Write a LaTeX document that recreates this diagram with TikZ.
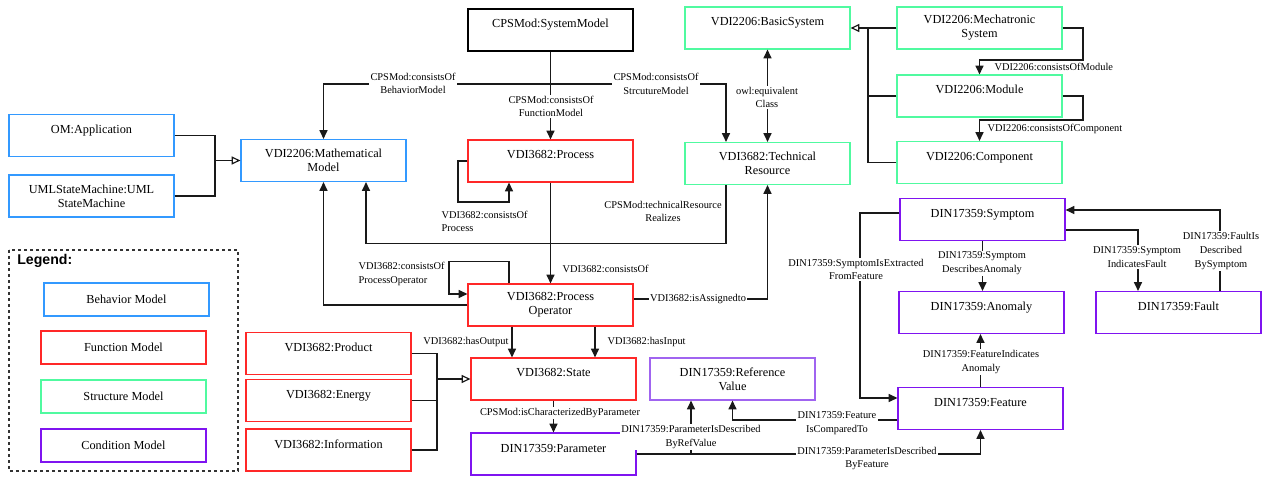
\documentclass[tikz,border=0pt]{standalone}
\usepackage{fontspec}
\setmainfont{Liberation Serif}
\newfontfamily\legendfont{Liberation Sans}
\usetikzlibrary{arrows.meta}
\definecolor{bblue}{RGB}{51,153,255}
\definecolor{fred}{RGB}{255,40,40}
\definecolor{sgreen}{RGB}{80,250,160}
\definecolor{cpurple}{RGB}{127,20,240}
\definecolor{lpurple}{RGB}{160,100,240}
\definecolor{edgec}{RGB}{25,25,25}
\newcommand\ndfont{\fontsize{9.2pt}{10.5pt}\selectfont}
\newcommand\lbfont{\fontsize{7.8pt}{10.3pt}\selectfont}
\tikzset{
  box/.style={draw, line width=0.9pt, minimum width=123.75pt, minimum height=31.5pt,
    inner sep=1pt, align=center, font=\ndfont},
  one/.style={text height=6pt, text depth=9pt},
  lgbox/.style={box, minimum height=24.75pt},
  lbl/.style={fill=white, inner sep=1pt, align=center, font=\lbfont},
  conn/.style={line width=0.9pt, draw=edgec},
  arr/.style={conn, -{Triangle[length=6.5pt,width=6pt]}},
  oarr/.style={conn, -{Triangle[open,length=6.5pt,width=6pt]}},
  darr/.style={conn, {Triangle[length=6.5pt,width=6pt]}-{Triangle[length=6.5pt,width=6pt]}}
}
\begin{document}
\begin{tikzpicture}[x=0.75pt,y=-0.75pt]
\useasboundingbox (0,0) rectangle (1268,477);

% ---------- boxes ----------
\node[box,one,draw=black] (sys) at (550.5,30) {CPSMod:SystemModel};
\node[box,one,draw=sgreen] (basic) at (767.5,28) {VDI2206:BasicSystem};
\node[box,draw=sgreen] (mech) at (979.5,28) {VDI2206:Mechatronic\\System};
\node[box,one,draw=sgreen] (module) at (979.5,96) {VDI2206:Module};
\node[box,one,draw=sgreen] (comp) at (979.5,162.5) {VDI2206:Component};
\node[box,one,draw=bblue] (omapp) at (91.5,135.5) {OM:Application};
\node[box,draw=bblue] (uml) at (91.5,196) {UMLStateMachine:UML\\StateMachine};
\node[box,draw=bblue] (math) at (323.5,160.5) {VDI2206:Mathematical\\Model};
\node[box,one,draw=fred] (process) at (550.5,161) {VDI3682:Process};
\node[box,draw=sgreen] (techres) at (767.5,163.5) {VDI3682:Technical\\Resource};
\node[box,draw=fred] (procop) at (550.5,305) {VDI3682:Process\\Operator};
\node[box,one,draw=fred] (product) at (328.5,353.5) {VDI3682:Product};
\node[box,one,draw=fred] (energy) at (328.5,400.5) {VDI3682:Energy};
\node[box,one,draw=fred] (info) at (328.5,450) {VDI3682:Information};
\node[box,one,draw=fred] (state) at (553.5,379) {VDI3682:State};
\node[box,draw=lpurple] (refval) at (732.5,379) {DIN17359:Reference\\Value};
\node[box,one,draw=cpurple] (param) at (553.5,454) {DIN17359:Parameter};
\node[box,one,draw=cpurple] (symptom) at (982.5,219.5) {DIN17359:Symptom};
\node[box,one,draw=cpurple] (anomaly) at (981.5,312.5) {DIN17359:Anomaly};
\node[box,one,draw=cpurple] (fault) at (1178.5,312.5) {DIN17359:Fault};
\node[box,one,draw=cpurple] (feature) at (980.5,408.5) {DIN17359:Feature};

% ---------- legend ----------
\draw[dash pattern=on 2.5pt off 2pt, line width=0.8pt, black!80] (9,250) rectangle (238,471);
\node[anchor=west, inner sep=0pt, font=\legendfont\bfseries\fontsize{10.6pt}{12pt}\selectfont] (legtitle) at (17,261) {Legend:};
\node[lgbox,draw=bblue] (lg1) at (126.5,299.5) {Behavior Model};
\node[lgbox,draw=fred] (lg2) at (123.5,347.5) {Function Model};
\node[lgbox,draw=sgreen] (lg3) at (123.5,396.5) {Structure Model};
\node[lgbox,draw=cpurple] (lg4) at (123.5,445.5) {Condition Model};

% ---------- connectors ----------
\coordinate (j1) at (215,160.5);
\draw[conn] (omapp.east) -| (j1);
\draw[conn] (uml.east) -| (j1);
\draw[oarr] (j1) -- (math.west);

\coordinate (s1) at (550.5,84);
\draw[conn] (sys.south) -- (s1);
\draw[arr] (s1) -| (math.north);
\draw[arr] (sys.south) -- (process.north);
\draw[arr] (s1) -| ([xshift=-31.125pt]techres.north);

\draw[darr] (basic.south) -- (techres.north);

\coordinate (m1) at (868,28);
\draw[oarr] (mech.west) -- (basic.east);
\draw[conn] (module.west) -| (m1);
\draw[conn] (comp.west) -| (m1);
\draw[arr] (mech.east) -| (1083,60) -| (module.north);
\draw[arr] (module.east) -| (1083,120) -| (comp.north);

\draw[arr] (process.west) -| (458,202) -| ([xshift=-31.125pt]process.south);
\draw[arr] (process.south) -- (procop.north);
\draw[arr] ([xshift=-31.125pt]techres.south) -- ++(0,58.5) -| ([xshift=31.875pt]math.south);

\draw[arr] ([xshift=-31.125pt]procop.north) -- ++(0,-22) -| (449,294) -- ([yshift=8.25pt]procop.west);
\draw[arr] (procop.west) -| (math.south);
\draw[arr] ([yshift=4.5pt]procop.east) -| (techres.south);

\draw[arr] ([xshift=-28.875pt]procop.south) coordinate (ho) -- (ho |- state.north);
\draw[arr] ([xshift=33.375pt]procop.south) coordinate (hi) -- (hi |- state.north);

\coordinate (j2) at (437,379);
\draw[conn] (product.east) -| (j2);
\draw[conn] (energy.east) -| (j2);
\draw[conn] (info.east) -| (j2);
\draw[oarr] (j2) -- (state.west);

\draw[arr] (state.south) -- (param.north);
\draw[arr] (param.east) -| (feature.south);
\draw[arr] (param.east) -| ([xshift=-31.125pt]refval.south);
\draw[arr] ([yshift=-8.625pt]feature.west) -| (refval.south);

\draw[arr] ([yshift=4.875pt]symptom.west) -| (860,300) |- ([yshift=7.875pt]feature.west);
\draw[arr] (symptom.south) coordinate (sa) -- (sa |- anomaly.north);
\draw[arr] (feature.north) coordinate (fa) -- (fa |- anomaly.south);
\draw[arr] ([yshift=-7.875pt]symptom.east) -| ([xshift=-30.375pt]fault.north);
\draw[arr] ([xshift=31.125pt]fault.north) |- ([yshift=7.125pt]symptom.east);

% ---------- labels ----------
\node[lbl] (l1) at (413,83.5) {CPSMod:consistsOf\\BehaviorModel};
\node[lbl] (l2) at (551,106.5) {CPSMod:consistsOf\\FunctionModel};
\node[lbl] (l3) at (656,84) {CPSMod:consistsOf\\StrcutureModel};
\node[lbl] (l4) at (767,97.5) {owl:equivalent\\Class};
\node[lbl,anchor=west] (l5) at (993,66.5) {VDI2206:consistsOfModule};
\node[lbl,anchor=west] (l6) at (986,128.5) {VDI2206:consistsOfComponent};
\node[lbl,anchor=west,align=left] (l7) at (440,221.5) {VDI3682:consistsOf\\Process};
\node[lbl] (l8) at (663,211.5) {CPSMod:technicalResource\\Realizes};
\node[lbl,anchor=west,align=left] (l9) at (357,274) {VDI3682:consistsOf\\ProcessOperator};
\node[lbl,anchor=west] (l10) at (561,268.5) {VDI3682:consistsOf};
\node[lbl] (l11) at (698,299.5) {VDI3682:isAssignedto};
\node[lbl,anchor=east] (l12) at (510,342) {VDI3682:hasOutput};
\node[lbl,anchor=west] (l13) at (606,342) {VDI3682:hasInput};
\node[lbl] (l14) at (560,413) {CPSMod:isCharacterizedByParameter};
\node[lbl] (l15) at (691,437) {DIN17359:ParameterIsDescribed\\ByRefValue};
\node[lbl] (l16) at (837,423.5) {DIN17359:Feature\\IsComparedTo};
\node[lbl] (l17) at (867,458.5) {DIN17359:ParameterIsDescribed\\ByFeature};
\node[lbl] (l18) at (856,269.5) {DIN17359:SymptomIsExtracted\\FromFeature};
\node[lbl] (l19) at (982,263.5) {DIN17359:Symptom\\DescribesAnomaly};
\node[lbl] (l20) at (981,362) {DIN17359:FeatureIndicates\\Anomaly};
\node[lbl] (l21) at (1137,257) {DIN17359:Symptom\\IndicatesFault};
\node[lbl] (l22) at (1221,251) {DIN17359:FaultIs\\Described\\BySymptom};
\end{tikzpicture}
\end{document}
